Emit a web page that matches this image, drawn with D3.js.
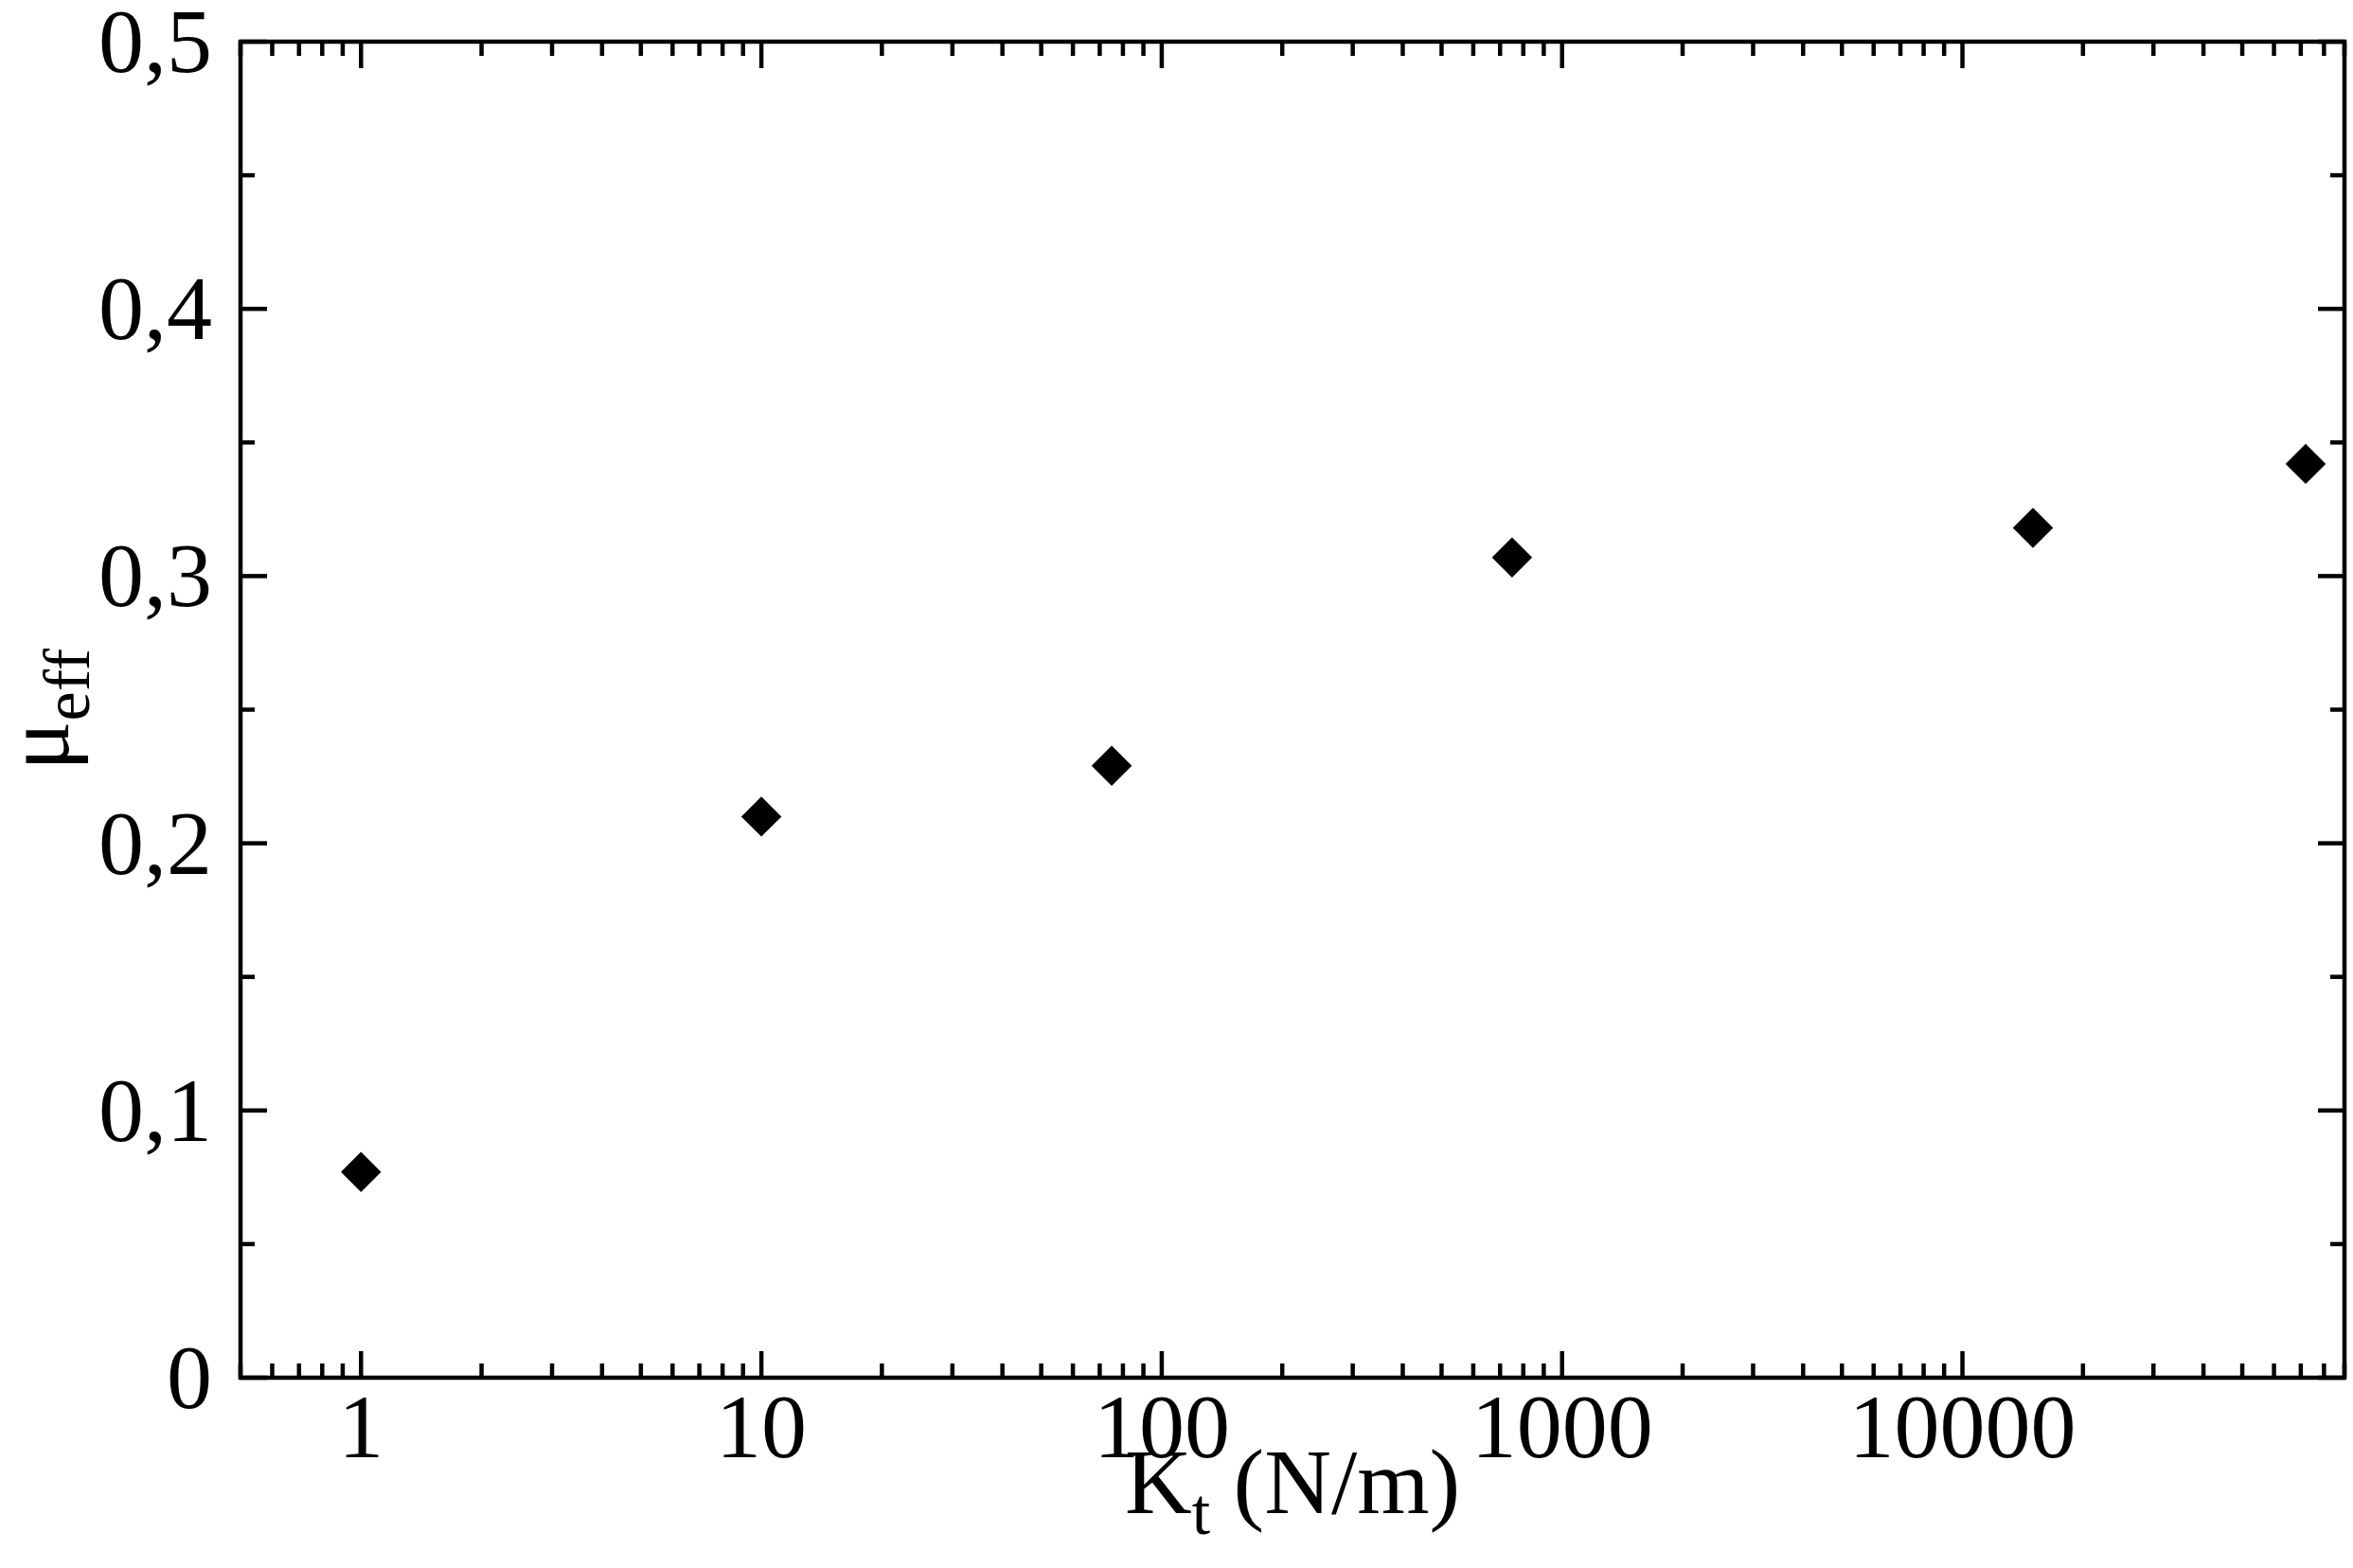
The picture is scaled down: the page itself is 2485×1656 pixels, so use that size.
<!DOCTYPE html>
<html><head><meta charset="utf-8">
<script src="https://cdn.jsdelivr.net/npm/d3@7"></script>
<style>body{margin:0;background:#fff}text{font-family:"Liberation Serif","DejaVu Serif",serif}</style>
</head><body><svg id="viz" width="2485" height="1656"></svg>
<script>
var kt = [1, 10, 75, 750, 15000, 72000];
var mu = [0.077, 0.21, 0.229, 0.307, 0.318, 0.342];
var xTicks = [1, 10, 100, 1000, 10000];
var yTicks = [0, 0.1, 0.2, 0.3, 0.4, 0.5];

var margins = {top: 44, right: 9, bottom: 201, left: 254};
var svg = d3.select("#viz"),
    width = +svg.attr("width") - margins.left - margins.right,
    height = +svg.attr("height") - margins.top - margins.bottom,
    g = svg.append("g").attr("transform", "translate(" + margins.left + "," + margins.top + ")");

var x = d3.scaleLog().domain([0.5, 90000]).range([0, width]);
var y = d3.scaleLinear().domain([0, 0.5]).range([height, 0]);

var minorX = [];
for (var e = -1; e <= 4; e++) for (var m = 1; m < 10; m++) {
  var v = m * Math.pow(10, e);
  if (v >= 0.5 && v <= 90000 && xTicks.indexOf(v) < 0) minorX.push(v);
}
var minorY = d3.range(0.05, 0.5, 0.1);
var sw = 4.5;

function tickLines(vals, len, horiz) {
  vals.forEach(function(v){
    if (horiz) {
      var px = x(v);
      g.append("line").attr("x1", px).attr("x2", px).attr("y1", height).attr("y2", height - len);
      g.append("line").attr("x1", px).attr("x2", px).attr("y1", 0).attr("y2", len);
    } else {
      var py = y(v);
      g.append("line").attr("y1", py).attr("y2", py).attr("x1", 0).attr("x2", len);
      g.append("line").attr("y1", py).attr("y2", py).attr("x1", width).attr("x2", width - len);
    }
  });
}
tickLines(xTicks, 28, true);
tickLines(minorX, 15, true);
tickLines(yTicks, 28, false);
tickLines(minorY, 15, false);
g.selectAll("line").attr("stroke", "#000").attr("stroke-width", sw);

g.append("rect").attr("width", width).attr("height", height)
  .attr("fill", "none").attr("stroke", "#000").attr("stroke-width", sw);

g.selectAll(".xl").data(xTicks).enter().append("text")
  .attr("x", function(d){ return x(d); }).attr("y", height + 84)
  .attr("text-anchor", "middle").attr("font-size", 96)
  .text(function(d){ return d; });
g.selectAll(".yl").data(yTicks).enter().append("text")
  .attr("x", -30).attr("y", function(d){ return y(d) + 32; })
  .attr("text-anchor", "end").attr("font-size", 96)
  .text(function(d){ return d === 0 ? "0" : String(d).replace(".", ","); });

var sym = d3.symbol().type(d3.symbolDiamond2).size(1150);
g.selectAll(".pt").data(kt).enter().append("path")
  .attr("d", sym)
  .attr("transform", function(d, i){ return "translate(" + x(d) + "," + y(mu[i]) + ")"; })
  .attr("fill", "#000");

var xl = svg.append("text").attr("x", margins.left + width / 2).attr("y", 1598)
  .attr("text-anchor", "middle").attr("font-size", 98);
xl.append("tspan").text("K");
xl.append("tspan").attr("dy", 22).attr("font-size", 70).text("t");
xl.append("tspan").attr("dy", -22).text(" (N/m)");

var yl = svg.append("text").attr("transform", "translate(72," + (margins.top + y(0.25)) + ") rotate(-90)")
  .attr("text-anchor", "middle").attr("font-size", 98);
yl.append("tspan").text("μ");
yl.append("tspan").attr("dy", 22).attr("font-size", 70).text("eff");
</script></body></html>
